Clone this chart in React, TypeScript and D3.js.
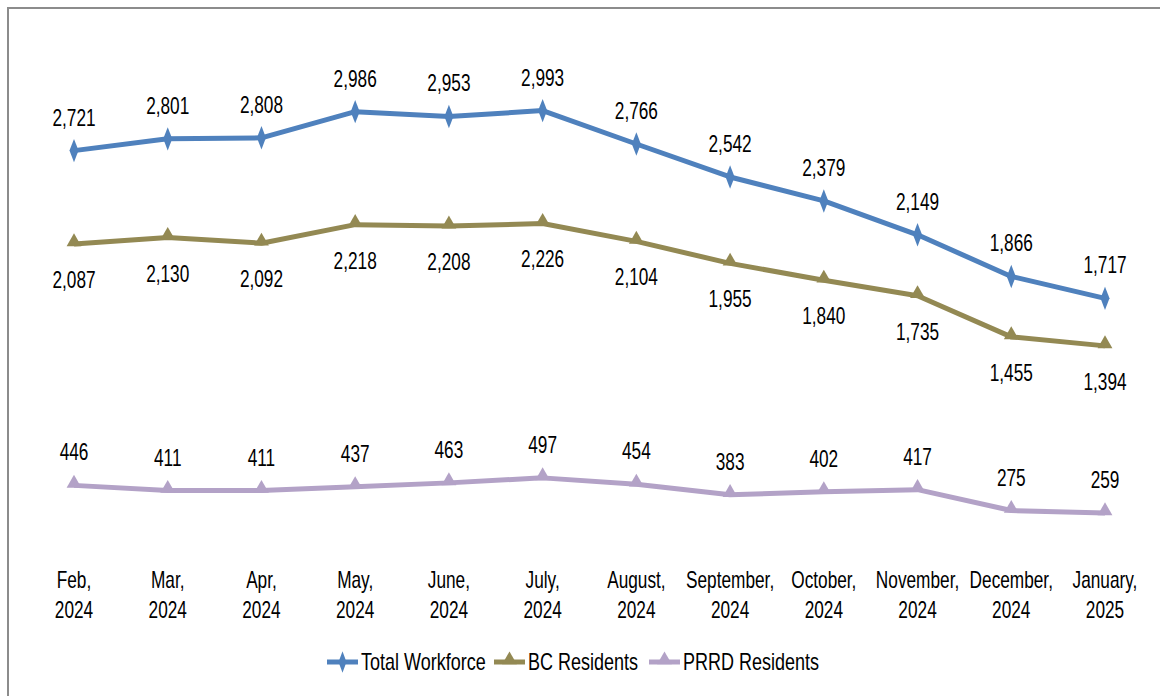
import * as d3 from 'd3';
import { useEffect, useRef } from 'react';

const months = ['Feb,|2024', 'Mar,|2024', 'Apr,|2024', 'May,|2024', 'June,|2024', 'July,|2024', 'August,|2024',
    'September,|2024', 'October,|2024', 'November,|2024', 'December,|2024', 'January,|2025'];
const totalWorkforce = [2721, 2801, 2808, 2986, 2953, 2993, 2766, 2542, 2379, 2149, 1866, 1717];
const bcResidents = [2087, 2130, 2092, 2218, 2208, 2226, 2104, 1955, 1840, 1735, 1455, 1394];
const prrdResidents = [446, 411, 411, 437, 463, 497, 454, 383, 402, 417, 275, 259];

const series = [
    { name: 'Total Workforce', values: totalWorkforce, color: '#4f81bd', marker: 'diamond', labelPos: 'above' },
    { name: 'BC Residents', values: bcResidents, color: '#938953', marker: 'triangle', labelPos: 'below' },
    { name: 'PRRD Residents', values: prrdResidents, color: '#b3a2c7', marker: 'triangle', labelPos: 'above' },
];

function App() {
    const ref = useRef<SVGSVGElement>(null);

    useEffect(() => {
        const svg = d3.select(ref.current);
        svg.selectAll('*').remove();
        const width = 1160, height = 696;
        const font = 'Liberation Sans, Arial, sans-serif';

        // 外框
        svg.append('rect')
            .attr('x', 8).attr('y', 8)
            .attr('width', width).attr('height', height)
            .attr('fill', 'white').attr('stroke', '#8c8c8c').attr('stroke-width', 2);

        const x = d3.scalePoint<number>()
            .domain(d3.range(months.length))
            .range([74, 1105]);
        const y = d3.scaleLinear().domain([0, 3500]).range([551, 36]);

        const line = d3.line<number>()
            .x((d, i) => x(i)!)
            .y(d => y(d));

        const diamond = d3.symbol().type(d3.symbolDiamond).size(110)();
        const triangle = d3.symbol().type(d3.symbolTriangle).size(95)();

        // 文字是竖向拉长的，用 scaleX 压窄
        const addText = (g: any, tx: number, ty: number, txt: string, size: number, anchor = 'middle') =>
            g.append('text')
                .attr('transform', `translate(${tx},${ty}) scale(0.75,1)`)
                .attr('text-anchor', anchor)
                .attr('font-family', font)
                .attr('font-size', size)
                .attr('fill', '#000')
                .text(txt);

        series.forEach(s => {
            const g = svg.append('g');
            g.append('path')
                .datum(s.values)
                .attr('fill', 'none')
                .attr('stroke', s.color)
                .attr('stroke-width', 5)
                .attr('stroke-linejoin', 'round')
                .attr('d', line);
            g.selectAll('path.m')
                .data(s.values)
                .join('path')
                .attr('class', 'm')
                .attr('d', s.marker === 'diamond' ? diamond : triangle)
                .attr('transform', (d, i) => `translate(${x(i)},${y(d) + (s.marker === 'diamond' ? 0 : -2)})` + (s.marker === 'diamond' ? ' scale(0.8,1.2)' : ''))
                .attr('fill', s.color);
            s.values.forEach((v, i) => {
                addText(g, x(i)!, y(v) + (s.labelPos === 'above' ? -25 : 44), d3.format(',')(v), 23);
            });
        });

        // x轴标签
        const xl = svg.append('g');
        months.forEach((m, i) => {
            const parts = m.split('|');
            addText(xl, x(i)!, 588, parts[0], 23);
            addText(xl, x(i)!, 618, parts[1], 23);
        });

        // 图例
        const legendX = [327, 494, 649];
        const legend = svg.append('g');
        series.forEach((s, i) => {
            const lx = legendX[i], ly = 662;
            legend.append('line')
                .attr('x1', lx).attr('x2', lx + 31)
                .attr('y1', ly).attr('y2', ly)
                .attr('stroke', s.color).attr('stroke-width', 5);
            legend.append('path')
                .attr('d', s.marker === 'diamond' ? diamond : triangle)
                .attr('transform', `translate(${lx + 15.5},${ly - (s.marker === 'diamond' ? 0 : 2)})` + (s.marker === 'diamond' ? ' scale(0.7,1.1)' : ''))
                .attr('fill', s.color);
            addText(legend, lx + 34, ly + 8, s.name, 24, 'start');
        });
    }, []);

    return (
        <svg ref={ref} width={1160} height={696}
            style={{ position: 'absolute', left: 0, top: 0, display: 'block' }} />
    );
}

export default App;
